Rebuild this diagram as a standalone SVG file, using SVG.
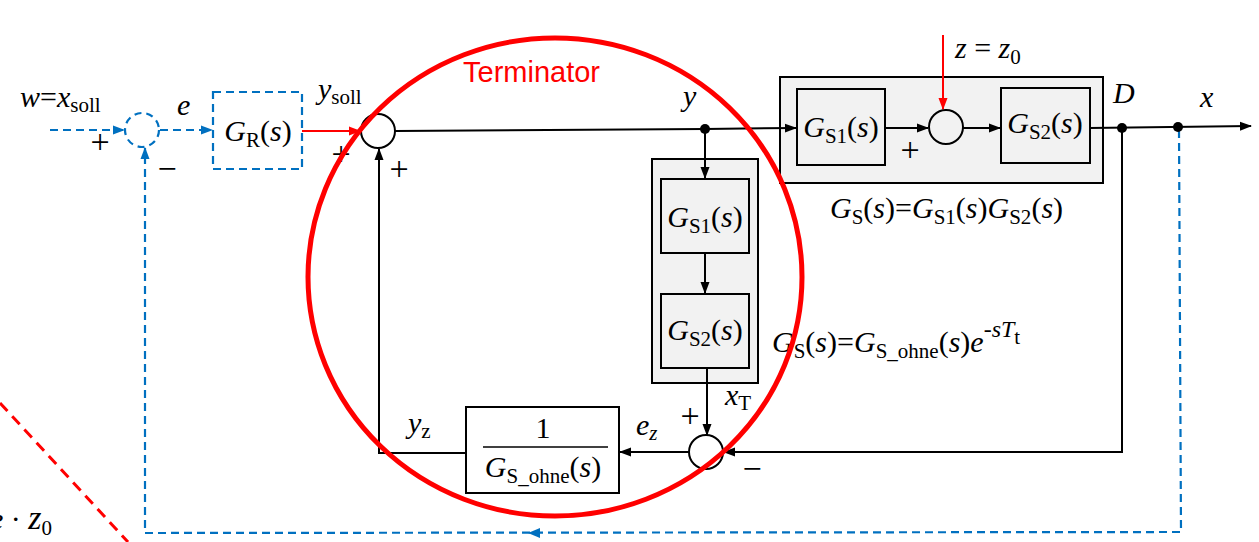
<svg xmlns="http://www.w3.org/2000/svg" width="1259" height="542" viewBox="0 0 1259 542">
<style>
.t{font-family:"Liberation Serif","Times New Roman",serif;font-size:30px;fill:#000}
.i{font-style:italic}
.sub{font-size:21px}
.ln{fill:none;stroke:#000;stroke-width:2}
.bl{fill:none;stroke:#0070C0;stroke-width:2.2;stroke-dasharray:8 5}
.rd{fill:none;stroke:#FF0000;stroke-width:2}
.box{fill:#fff;stroke:#000;stroke-width:2}
.gbox{fill:#F2F2F2;stroke:#000;stroke-width:2}
.pm{font-family:"Liberation Serif",serif;font-size:34px;fill:#000;text-anchor:middle}
</style>
<defs>
<marker id="ab" markerUnits="userSpaceOnUse" markerWidth="12" markerHeight="10" refX="11" refY="5" orient="auto"><path d="M0,0.5 L12,5 L0,9.5 z" fill="#000"/></marker>
<marker id="au" markerUnits="userSpaceOnUse" markerWidth="12" markerHeight="10" refX="11" refY="5" orient="auto"><path d="M0,0.5 L12,5 L0,9.5 z" fill="#0070C0"/></marker>
<marker id="ar" markerUnits="userSpaceOnUse" markerWidth="12" markerHeight="10" refX="11" refY="5" orient="auto"><path d="M0,0.5 L12,5 L0,9.5 z" fill="#FF0000"/></marker>
</defs>

<g id="sum1">
<circle cx="142" cy="130" r="17" fill="#fff" stroke="#0070C0" stroke-width="2.2" stroke-dasharray="7 5"/>
</g>
<g id="GR">
<rect x="213" y="92" width="89" height="77" fill="#fff" stroke="#0070C0" stroke-width="2.2" stroke-dasharray="8 5"/>
<text class="t" x="258" y="141" text-anchor="middle"><tspan class="i">G</tspan><tspan class="sub" dy="6">R</tspan><tspan dy="-6">(</tspan><tspan class="i">s</tspan>)</text>
</g>
<g id="sum2">
<circle cx="378" cy="131" r="17" class="box"/>
</g>

<g id="GS_upper">
<rect x="780" y="77" width="323" height="106" class="gbox"/>
<g id="GS1_upper">
<rect x="797" y="89" width="88" height="76" class="gbox"/>
<text class="t" x="841" y="137" text-anchor="middle"><tspan class="i">G</tspan><tspan class="sub" dy="6">S1</tspan><tspan dy="-6">(</tspan><tspan class="i">s</tspan>)</text>
</g>
<g id="sum_z">
<circle cx="946" cy="127" r="17" class="gbox"/>
</g>
<g id="GS2_upper">
<rect x="1001" y="88" width="89" height="75" class="gbox"/>
<text class="t" x="1045" y="133" text-anchor="middle"><tspan class="i">G</tspan><tspan class="sub" dy="6">S2</tspan><tspan dy="-6">(</tspan><tspan class="i">s</tspan>)</text>
</g>
</g>

<g id="GS_vertical">
<rect x="652" y="159" width="106" height="224" class="gbox"/>
<g id="GS1_v">
<rect x="661" y="179" width="88" height="74" class="gbox"/>
<text class="t" x="705" y="227" text-anchor="middle"><tspan class="i">G</tspan><tspan class="sub" dy="6">S1</tspan><tspan dy="-6">(</tspan><tspan class="i">s</tspan>)</text>
</g>
<g id="GS2_v">
<rect x="661" y="294" width="88" height="74" class="gbox"/>
<text class="t" x="705" y="340" text-anchor="middle"><tspan class="i">G</tspan><tspan class="sub" dy="6">S2</tspan><tspan dy="-6">(</tspan><tspan class="i">s</tspan>)</text>
</g>
</g>

<g id="sum3">
<circle cx="706" cy="452" r="17" class="box"/>
</g>

<g id="inverse">
<rect x="466" y="407" width="153" height="86" class="box"/>
<text class="t" x="543" y="438" text-anchor="middle">1</text>
<line x1="483" y1="447" x2="608" y2="447" stroke="#000" stroke-width="1.5"/>
<text class="t" x="543" y="477" text-anchor="middle"><tspan class="i">G</tspan><tspan class="sub" dy="6">S_ohne</tspan><tspan dy="-6">(</tspan><tspan class="i">s</tspan>)</text>
</g>

<g id="connectors">
<line class="bl" x1="50" y1="130" x2="124" y2="130" marker-end="url(#au)"/>
<line class="bl" x1="160" y1="130" x2="212" y2="130" marker-end="url(#au)"/>
<polyline class="bl" points="1179,130 1181,532 145,533 145,148" marker-end="url(#au)"/>
<path d="M528,533 L540,528 L540,538 z" fill="#0070C0"/>
<line class="rd" x1="302" y1="131" x2="360" y2="131" marker-end="url(#ar)"/>
<line class="rd" x1="943" y1="35" x2="943" y2="109" marker-end="url(#ar)"/>
<polyline class="ln" points="395,131 705,129 796,128" marker-end="url(#ab)"/>
<line class="ln" x1="885" y1="128" x2="928" y2="128" marker-end="url(#ab)"/>
<line class="ln" x1="963" y1="128" x2="1000" y2="128" marker-end="url(#ab)"/>
<line class="ln" x1="1090" y1="128" x2="1251" y2="126" marker-end="url(#ab)"/>
<line class="ln" x1="705" y1="129" x2="705" y2="178" marker-end="url(#ab)"/>
<line class="ln" x1="705" y1="253" x2="705" y2="293" marker-end="url(#ab)"/>
<line class="ln" x1="707" y1="368" x2="707" y2="435" marker-end="url(#ab)"/>
<polyline class="ln" points="1122,128 1122,452 724,452" marker-end="url(#ab)"/>
<line class="ln" x1="689" y1="452" x2="620" y2="452" marker-end="url(#ab)"/>
<polyline class="ln" points="466,453 379,453 379,149" marker-end="url(#ab)"/>
<circle cx="705" cy="129" r="5" fill="#000"/>
<circle cx="1122" cy="128" r="5" fill="#000"/>
<circle cx="1178" cy="127" r="5" fill="#000"/>
</g>

<g id="labels">
<text class="t" x="20" y="107"><tspan class="i">w</tspan>=<tspan class="i">x</tspan><tspan class="sub" dy="5">soll</tspan></text>
<text class="t i" x="177" y="115">e</text>
<text class="t" x="318" y="99"><tspan class="i">y</tspan><tspan class="sub" dy="5">soll</tspan></text>
<text class="t i" x="683" y="106">y</text>
<text class="t" x="955" y="58"><tspan class="i">z</tspan> = <tspan class="i">z</tspan><tspan class="sub" dy="6">0</tspan></text>
<text class="t i" x="1113" y="103">D</text>
<text class="t i" x="1200" y="107">x</text>
<text class="t" x="830" y="218"><tspan class="i">G</tspan><tspan class="sub" dy="6">S</tspan><tspan dy="-6">(</tspan><tspan class="i">s</tspan>)=<tspan class="i">G</tspan><tspan class="sub" dy="6">S1</tspan><tspan dy="-6">(</tspan><tspan class="i">s</tspan>)<tspan class="i">G</tspan><tspan class="sub" dy="6">S2</tspan><tspan dy="-6">(</tspan><tspan class="i">s</tspan>)</text>
<text class="t" x="772" y="352"><tspan class="i">G</tspan><tspan class="sub" dy="6">S</tspan><tspan dy="-6">(</tspan><tspan class="i">s</tspan>)=<tspan class="i">G</tspan><tspan class="sub" dy="6">S_ohne</tspan><tspan dy="-6">(</tspan><tspan class="i">s</tspan>)<tspan class="i">e</tspan><tspan dy="-15" font-size="24px">-</tspan><tspan class="i" font-size="24px">s</tspan><tspan class="i" font-size="24px">T</tspan><tspan class="sub" dy="7">t</tspan></text>
<text class="t" x="725" y="405"><tspan class="i">x</tspan><tspan class="sub" dy="5">T</tspan></text>
<text class="t" x="636" y="435"><tspan class="i">e</tspan><tspan class="sub i" dy="5">z</tspan></text>
<text class="t" x="408" y="433"><tspan class="i">y</tspan><tspan class="sub" dy="5">z</tspan></text>
<text class="pm" x="100" y="153">+</text>
<text class="pm" x="167" y="180">−</text>
<text class="pm" x="341" y="165">+</text>
<text class="pm" x="399" y="180">+</text>
<text class="pm" x="910" y="161">+</text>
<text class="pm" x="690" y="427">+</text>
<text class="pm" x="752" y="480">−</text>
<text class="t" x="-10" y="529"><tspan class="i">e</tspan> · <tspan class="i" font-size="34px">z</tspan><tspan class="sub" font-size="24px" dy="6">0</tspan></text>
</g>

<g id="terminator">
<ellipse cx="555" cy="277" rx="247" ry="239" fill="none" stroke="#FF0000" stroke-width="5"/>
<text x="463" y="82" font-family="'Liberation Sans',Arial,sans-serif" font-size="29px" fill="#FF0000">Terminator</text>
<line x1="0" y1="403" x2="128" y2="542" stroke="#FF0000" stroke-width="3" stroke-dasharray="11 7"/>
</g>
</svg>
